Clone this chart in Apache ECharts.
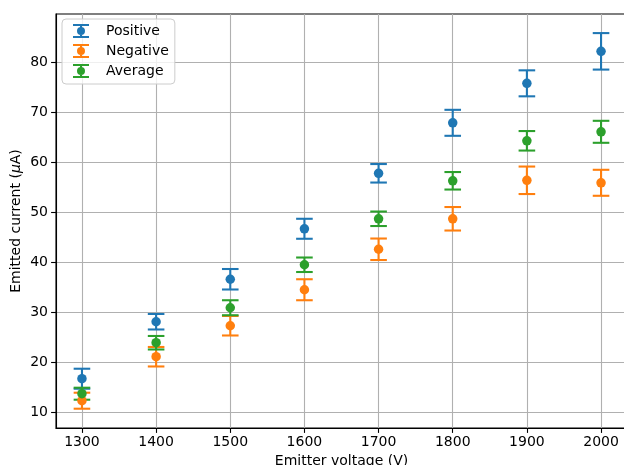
<!DOCTYPE html>
<html>
<head>
<meta charset="utf-8">
<script src="https://cdn.jsdelivr.net/npm/echarts@6/dist/echarts.min.js"></script>
<style>
  html, body { margin: 0; padding: 0; background: #fff; }
  #chart { width: 624px; height: 465px; }
</style>
</head>
<body>
<div id="chart"></div>
<script>
// ---- Data ----
const voltages = [1300, 1400, 1500, 1600, 1700, 1800, 1900, 2000];
const positiveMean = [16.7, 28.1, 36.6, 46.7, 57.8, 67.9, 75.8, 82.2];
const positiveErr  = [2.0, 1.55, 2.05, 2.0, 1.85, 2.6, 2.6, 3.65];
const negativeMean = [12.3, 21.1, 27.3, 34.5, 42.6, 48.7, 56.4, 55.9];
const negativeErr  = [1.6, 1.95, 1.95, 2.1, 2.15, 2.35, 2.75, 2.6];
const averageMean  = [13.7, 23.9, 30.9, 39.5, 48.7, 56.3, 64.3, 66.1];
const averageErr   = [1.2, 1.35, 1.5, 1.45, 1.45, 1.75, 1.95, 2.2];
const xTicks = [1300, 1400, 1500, 1600, 1700, 1800, 1900, 2000];
const yTicks = [10, 20, 30, 40, 50, 60, 70, 80];
const seriesNames = ['Positive', 'Negative', 'Average'];
const colors = ['#1f77b4', '#ff7f0e', '#2ca02c'];

const FONT = 'DejaVu Sans';
const errIcon = 'path://M0,0H16V2H0Z M0,12H16V14H0Z M7,0H9V14H7Z M4,7A4,4 0 1,1 12,7A4,4 0 1,1 4,7Z';

function errData(means, errs) {
  return voltages.map((v, i) => [v, means[i] - errs[i], means[i] + errs[i]]);
}
function ptData(means) {
  return voltages.map((v, i) => [v, means[i]]);
}
function errorSeries(name, color, means, errs) {
  return {
    type: 'custom',
    name: name,
    data: errData(means, errs),
    encode: { x: 0, y: [1, 2] },
    clip: false,
    renderItem: function (params, api) {
      const x = api.value(0);
      const lo = api.coord([x, api.value(1)]);
      const hi = api.coord([x, api.value(2)]);
      const hw = 8.3;
      const st = { stroke: color, lineWidth: 2.08, fill: null };
      return {
        type: 'group',
        children: [
          { type: 'line', shape: { x1: lo[0], y1: lo[1], x2: hi[0], y2: hi[1] }, style: st },
          { type: 'line', shape: { x1: lo[0] - hw, y1: lo[1], x2: lo[0] + hw, y2: lo[1] }, style: st },
          { type: 'line', shape: { x1: hi[0] - hw, y1: hi[1], x2: hi[0] + hw, y2: hi[1] }, style: st }
        ]
      };
    },
    silent: true
  };
}
function pointSeries(name, color, means) {
  return {
    type: 'scatter',
    name: name,
    data: ptData(means),
    symbol: 'circle',
    symbolSize: 9.5,
    itemStyle: { color: color, opacity: 1 },
    silent: true
  };
}

const chart = echarts.init(document.getElementById('chart'), null, { renderer: 'canvas' });
const option = {
  animation: false,
  backgroundColor: '#ffffff',
  color: colors,
  textStyle: { fontFamily: FONT },
  grid: {
    left: 56, top: 14, right: -3, bottom: 37,
    containLabel: false,
    outerBoundsMode: 'none',
    show: true, borderColor: '#000000', borderWidth: 1.1, backgroundColor: 'transparent'
  },
  legend: {
    left: 62, top: 19,
    orient: 'vertical',
    itemWidth: 16, itemHeight: 14, itemGap: 6,
    padding: [5, 6, 6, 11],
    backgroundColor: 'rgba(255,255,255,0.8)',
    borderColor: '#cccccc', borderWidth: 1, borderRadius: 4,
    textStyle: { fontFamily: FONT, fontSize: 14, color: '#000', padding: [0, 0, 0, 12], lineHeight: 14 },
    data: seriesNames.map((n, i) => ({ name: n, icon: errIcon, itemStyle: { color: colors[i] } }))
  },
  xAxis: {
    type: 'value',
    min: 1265, max: 2035,
    name: 'Emitter voltage (V)',
    nameLocation: 'middle',
    nameGap: 26,
    nameMoveOverlap: false,
    nameTextStyle: { fontFamily: FONT, fontSize: 14, color: '#000', verticalAlign: 'top' },
    axisLine: { show: true, lineStyle: { color: '#000', width: 1.1 } },
    axisTick: { show: true, inside: false, length: 4.9, lineStyle: { color: '#000', width: 1.1 }, customValues: xTicks },
    axisLabel: { fontFamily: FONT, fontSize: 14, color: '#000', margin: 7, customValues: xTicks,
      formatter: function (v) { return String(Math.round(v)); } },
    splitLine: { show: true, lineStyle: { color: '#b0b0b0', width: 1.1 } }
  },
  yAxis: {
    type: 'value',
    min: 6.84, max: 89.67,
    name: 'Emitted current ({i|μ}A)',
    nameLocation: 'middle',
    nameRotate: 90,
    nameGap: 33,
    nameMoveOverlap: false,
    nameTextStyle: { fontFamily: FONT, fontSize: 14, color: '#000',
      rich: { i: { fontFamily: FONT, fontSize: 14, fontStyle: 'italic', color: '#000' } } },
    axisLine: { show: true, lineStyle: { color: '#000', width: 1.1 } },
    axisTick: { show: true, inside: false, length: 4.9, lineStyle: { color: '#000', width: 1.1 }, customValues: yTicks },
    axisLabel: { fontFamily: FONT, fontSize: 14, color: '#000', margin: 8, customValues: yTicks,
      formatter: function (v) { return String(Math.round(v)); } },
    splitLine: { show: true, lineStyle: { color: '#b0b0b0', width: 1.1 } }
  },
  series: [
    errorSeries('Positive', colors[0], positiveMean, positiveErr),
    pointSeries('Positive', colors[0], positiveMean),
    errorSeries('Negative', colors[1], negativeMean, negativeErr),
    pointSeries('Negative', colors[1], negativeMean),
    errorSeries('Average', colors[2], averageMean, averageErr),
    pointSeries('Average', colors[2], averageMean)
  ]
};
chart.setOption(option);
</script>
</body>
</html>
